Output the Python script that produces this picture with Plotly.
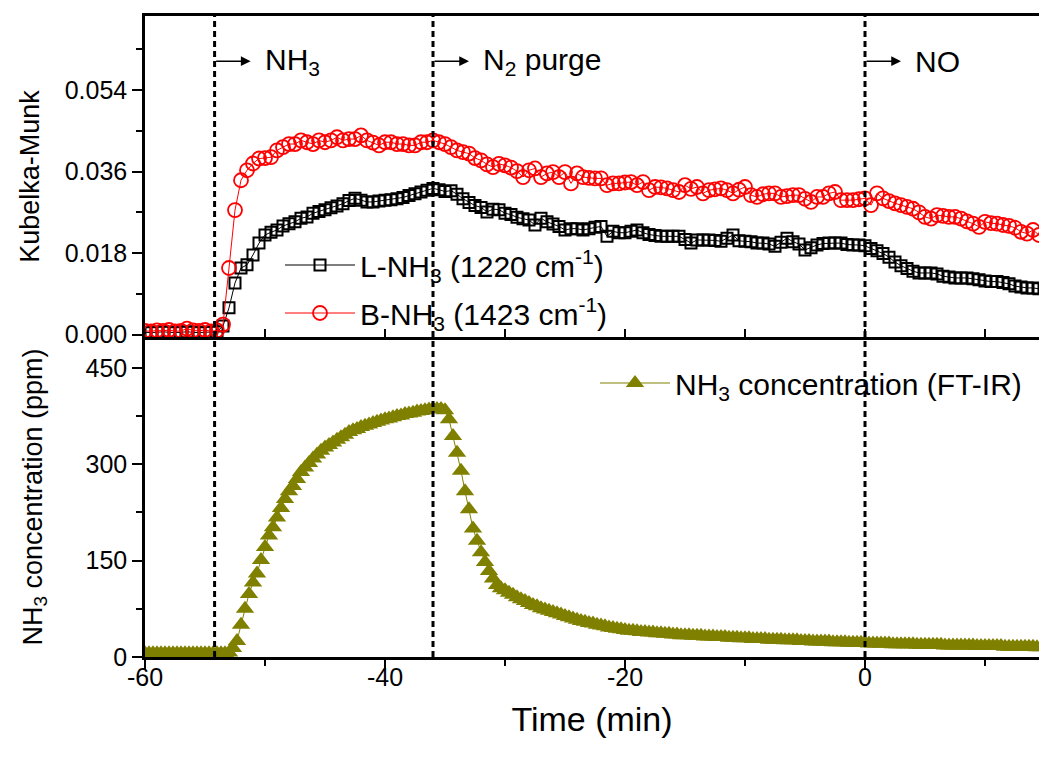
import numpy as np
import plotly.graph_objects as go

# ---------------- data ----------------
# DRIFTS band intensities, sampled every 0.5 min from -60 to 14.5 min
drifts_start, drifts_step = -60.0, 0.5

b_nh3_1423 = [
    0.0008, 0.0007, 0.0009, 0.0008, 0.0010, 0.0007, 0.0008, 0.0013, 0.0009, 0.0008,
    0.0010, 0.0007, 0.0009, 0.0022, 0.0147, 0.0275, 0.0341, 0.0363, 0.0378, 0.0389,
    0.0390, 0.0392, 0.0407, 0.0414, 0.0421, 0.0421, 0.0429, 0.0425, 0.0421, 0.0429,
    0.0425, 0.0429, 0.0436, 0.0429, 0.0432, 0.0432, 0.0440, 0.0429, 0.0424, 0.0418,
    0.0425, 0.0425, 0.0421, 0.0421, 0.0418, 0.0418, 0.0425, 0.0425, 0.0429, 0.0425,
    0.0421, 0.0414, 0.0407, 0.0403, 0.0400, 0.0390, 0.0385, 0.0376, 0.0370, 0.0377,
    0.0374, 0.0369, 0.0361, 0.0348, 0.0363, 0.0367, 0.0348, 0.0356, 0.0359, 0.0348,
    0.0359, 0.0334, 0.0356, 0.0348, 0.0346, 0.0345, 0.0345, 0.0330, 0.0334, 0.0334,
    0.0336, 0.0337, 0.0330, 0.0337, 0.0319, 0.0326, 0.0325, 0.0323, 0.0319, 0.0315,
    0.0330, 0.0322, 0.0326, 0.0312, 0.0319, 0.0321, 0.0323, 0.0319, 0.0312, 0.0320,
    0.0326, 0.0308, 0.0304, 0.0310, 0.0312, 0.0312, 0.0304, 0.0306, 0.0308, 0.0308,
    0.0300, 0.0293, 0.0304, 0.0304, 0.0312, 0.0315, 0.0297, 0.0297, 0.0297, 0.0299,
    0.0301, 0.0286, 0.0312, 0.0301, 0.0295, 0.0290, 0.0286, 0.0282, 0.0278, 0.0270,
    0.0260, 0.0256, 0.0264, 0.0262, 0.0260, 0.0260, 0.0256, 0.0250, 0.0245, 0.0238,
    0.0249, 0.0246, 0.0245, 0.0242, 0.0240, 0.0236, 0.0227, 0.0223, 0.0231, 0.0220,
]

l_nh3_1220 = [
    0.0005, 0.0004, 0.0005, 0.0006, 0.0005, 0.0004, 0.0005, 0.0006, 0.0005, 0.0004,
    0.0005, 0.0005, 0.0006, 0.0019, 0.0059, 0.0114, 0.0147, 0.0154, 0.0176, 0.0202,
    0.0220, 0.0226, 0.0231, 0.0240, 0.0245, 0.0249, 0.0257, 0.0260, 0.0268, 0.0272,
    0.0276, 0.0280, 0.0284, 0.0289, 0.0296, 0.0301, 0.0297, 0.0293, 0.0293, 0.0295,
    0.0297, 0.0298, 0.0300, 0.0303, 0.0307, 0.0311, 0.0315, 0.0319, 0.0323, 0.0320,
    0.0316, 0.0318, 0.0310, 0.0300, 0.0292, 0.0285, 0.0281, 0.0271, 0.0277, 0.0276,
    0.0268, 0.0265, 0.0259, 0.0256, 0.0253, 0.0242, 0.0257, 0.0249, 0.0244, 0.0239,
    0.0231, 0.0234, 0.0234, 0.0231, 0.0234, 0.0237, 0.0239, 0.0217, 0.0228, 0.0225,
    0.0225, 0.0228, 0.0231, 0.0225, 0.0221, 0.0219, 0.0217, 0.0217, 0.0217, 0.0217,
    0.0210, 0.0202, 0.0209, 0.0209, 0.0209, 0.0208, 0.0206, 0.0213, 0.0220, 0.0207,
    0.0206, 0.0205, 0.0202, 0.0202, 0.0200, 0.0195, 0.0204, 0.0213, 0.0205, 0.0200,
    0.0187, 0.0192, 0.0198, 0.0201, 0.0202, 0.0202, 0.0202, 0.0199, 0.0198, 0.0198,
    0.0196, 0.0190, 0.0185, 0.0179, 0.0171, 0.0160, 0.0152, 0.0146, 0.0140, 0.0136,
    0.0136, 0.0136, 0.0134, 0.0129, 0.0127, 0.0125, 0.0125, 0.0125, 0.0123, 0.0121,
    0.0118, 0.0117, 0.0117, 0.0115, 0.0112, 0.0107, 0.0105, 0.0103, 0.0103, 0.0101,
]

# FT-IR outlet NH3 concentration (ppm), one reading every 20 s from -60 min
ftir_start, ftir_step = -60.0, 1.0 / 3.0
nh3_ppm = [
    6, 6, 6,   6, 6, 6,   6, 6, 6,   6, 6, 6,   6, 6, 6,   6, 6, 6,   6, 6, 6,
    7, 14, 25,   50, 75, 98,   116, 130, 151,   171, 189, 202,   217, 232, 246,
    258, 266, 277,   288, 295, 302,   309, 315, 321,   326, 330, 334,
    338, 342, 346,   350, 353, 355,   358, 360, 362,   364, 366, 368,
    370, 371, 373,   375, 376, 378,   379, 380, 382,   383, 384, 385,
    386, 386, 386,   384, 370, 344,   318, 290, 258,   230, 200, 181,
    163, 148, 134,   122, 112, 107,   104, 100, 97,   93, 90, 87,
    84, 81, 79,   76, 74, 72,   70, 68, 66,   64, 62, 60,   58, 56, 55,
    53, 52, 50,   49, 48, 46,   45, 44, 43,   42, 41, 41,   40, 39, 39,
    38, 38, 37,   37, 36, 36,   35, 35, 34,   34, 34, 33,   33, 33, 32,
    32, 32, 31,   31, 31, 30,   30, 30, 29,   29, 29, 28,   28, 28, 28,
    27, 27, 27,   27, 26, 26,   26, 26, 25,   25, 25, 24,   24, 24, 24,
    24, 23, 23,   23, 23, 22,   22, 22, 22,   22, 21, 21,   21, 21, 21,
    21, 20, 20,   20, 20, 20,   20, 19, 19,   19, 19, 19,   19, 19, 18,
    18, 18, 18,   18, 18, 18,   18, 17, 17,   17, 17, 17,   17, 17, 16,
    16, 16, 16,   16, 16, 16,   16, 15, 15,
]

# gas switching times (min)
switch_times = [-54.2, -36.0, 0.0]
switch_labels = ["NH<sub>3</sub>", "N<sub>2</sub> purge", "NO"]

x_range = [-60, 14.5]
time_ticks = [-60, -40, -20, 0]
time_ticktext = ["-60", "-40", "-20", "0"]
time_minor = [-50, -30, -10, 10]
km_ticks = [0.0, 0.018, 0.036, 0.054]
km_minor = [0.009, 0.027, 0.045, 0.063]
ppm_ticks = [0, 150, 300, 450]
ppm_minor = [75, 225, 375]

t_drifts = drifts_start + drifts_step * np.arange(len(b_nh3_1423))
t_ftir = ftir_start + ftir_step * np.arange(len(nh3_ppm))

# ---------------- figure ----------------
FONT = "Arial, Liberation Sans, sans-serif"
OLIVE = "#808000"
split = 320 / 641  # fraction of plot height used by the lower panel

fig = go.Figure()

fig.add_trace(go.Scatter(
    x=t_drifts, y=l_nh3_1220, xaxis="x2", yaxis="y2",
    mode="lines+markers", name="L-NH<sub>3</sub> (1220 cm<sup>-1</sup>)",
    line=dict(color="black", width=1),
    marker=dict(symbol="square-open", size=11, color="black", line=dict(width=2)),
    legend="legend", showlegend=True,
))
fig.add_trace(go.Scatter(
    x=t_drifts, y=b_nh3_1423, xaxis="x2", yaxis="y2",
    mode="lines+markers", name="B-NH<sub>3</sub> (1423 cm<sup>-1</sup>)",
    line=dict(color="red", width=1),
    marker=dict(symbol="circle-open", size=14, color="red", line=dict(width=1.8)),
    legend="legend2", showlegend=True,
))
fig.add_trace(go.Scatter(
    x=t_ftir, y=nh3_ppm, xaxis="x", yaxis="y",
    mode="lines+markers", name="NH<sub>3</sub> concentration (FT-IR)",
    line=dict(color=OLIVE, width=1),
    marker=dict(symbol="triangle-up", size=16, color=OLIVE, line=dict(width=0)),
    legend="legend3", showlegend=True,
))

axis_common = dict(showline=True, linecolor="black", linewidth=2.5, showgrid=False,
                   zeroline=False, tickcolor="black", tickwidth=2,
                   tickfont=dict(family=FONT, size=25, color="black"))

legend_common = dict(xanchor="left", yanchor="middle", bgcolor="rgba(0,0,0,0)",
                     itemwidth=70, font=dict(family=FONT, size=30, color="black"))

fig.update_layout(
    width=1039, height=758,
    margin=dict(l=145, r=0, t=16, b=101),
    paper_bgcolor="white", plot_bgcolor="white",
    font=dict(family=FONT, color="black"),
    showlegend=True,
    xaxis=dict(axis_common, domain=[0, 1], anchor="y", range=x_range,
               tickvals=time_ticks, ticktext=time_ticktext, ticks="outside", ticklen=10,
               ticklabelstandoff=-14,
               minor=dict(tickvals=time_minor, ticks="outside", ticklen=6,
                          tickcolor="black", tickwidth=2),
               title=dict(text="Time (min)", font=dict(family=FONT, size=34), standoff=18)),
    yaxis=dict(axis_common, domain=[0, split], anchor="x", range=[0, 498],
               tickvals=ppm_ticks, ticks="outside", ticklen=10,
               minor=dict(tickvals=ppm_minor, ticks="outside", ticklen=6,
                          tickcolor="black", tickwidth=2),
               title=dict(text="NH<sub>3</sub> concentration (ppm)",
                          font=dict(family=FONT, size=27), standoff=36)),
    xaxis2=dict(axis_common, domain=[0, 1], anchor="y2", matches="x", range=x_range,
                mirror=True, showticklabels=False, tickvals=time_ticks + time_minor,
                ticks="inside", ticklen=8),
    yaxis2=dict(axis_common, domain=[split, 1], anchor="x2",
                range=[-0.00055, 0.0704], tickvals=km_ticks,
                ticktext=[f"{v:.3f}" for v in km_ticks], ticks="outside", ticklen=10,
                minor=dict(tickvals=km_minor, ticks="outside", ticklen=6,
                           tickcolor="black", tickwidth=2),
                title=dict(text="Kubelka-Munk", font=dict(family=FONT, size=27), standoff=18)),
    legend=dict(legend_common, x=(280 - 145) / 894, y=(657 - 265) / 641),
    legend2=dict(legend_common, x=(280 - 145) / 894, y=(657 - 313) / 641),
    legend3=dict(legend_common, x=(595 - 145) / 894, y=(657 - 383) / 641),
)

# dashed markers for the gas switches, spanning both panels
for ts in switch_times:
    fig.add_shape(type="line", xref="x", yref="paper", x0=ts, x1=ts, y0=0, y1=1,
                  line=dict(color="black", width=3, dash="6px,4px"))

# arrows and labels for each gas step
arrow_y = 0.0604
for ts, lab in zip(switch_times, switch_labels):
    fig.add_annotation(xref="x2", yref="y2", axref="x2", ayref="y2",
                       x=ts + 3.0, y=arrow_y, ax=ts, ay=arrow_y, text="",
                       showarrow=True, arrowhead=2, arrowsize=1.3, arrowwidth=1.5,
                       arrowcolor="black")
    fig.add_annotation(xref="x2", yref="y2", x=ts + 4.0, y=arrow_y, text=lab,
                       showarrow=False, xanchor="left", yanchor="middle",
                       font=dict(family=FONT, size=30, color="black"))

fig.write_html("out.html")
